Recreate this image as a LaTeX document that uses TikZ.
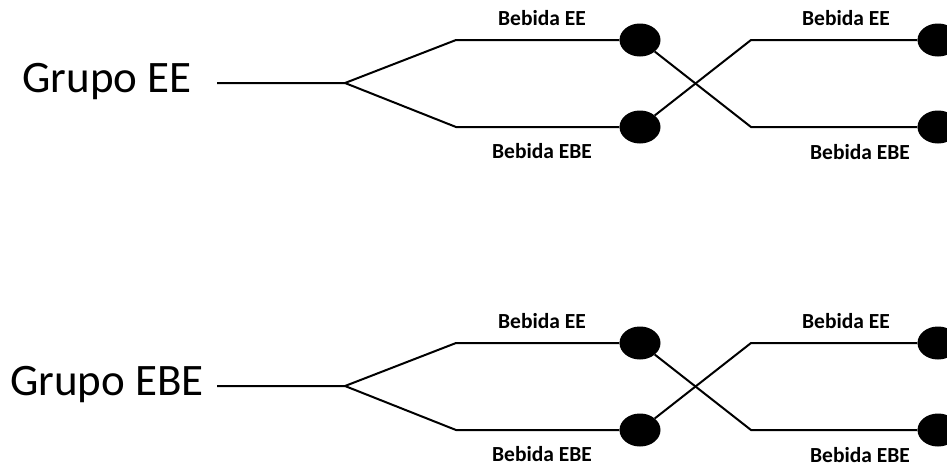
\documentclass[tikz,border=0pt]{standalone}
\usepackage{fontspec}
\setmainfont{Carlito}
\usetikzlibrary{shapes.geometric}
\begin{document}
\begin{tikzpicture}[x=1pt,y=-1pt,
  wire/.style={line width=2pt,line join=miter},
  dot/.style={ellipse,fill=black,draw=none,minimum width=41pt,minimum height=33pt,inner sep=0pt},
  grp/.style={anchor=base,inner sep=0pt,font=\fontsize{45}{54}\selectfont},
  lab/.style={anchor=base,inner sep=0pt,font=\fontsize{21.5}{26}\selectfont\bfseries}]
\useasboundingbox (0,0) rectangle (947,466);
\clip (0,0) rectangle (947,466);
\fill[white] (0,0) rectangle (947,466);
\foreach \oy/\txt/\g in {0/Grupo EE/a, 303/Grupo EBE/b}{
\begin{scope}[yshift=-\oy pt]
  \node[grp] (grp\g) at (107,92) {\txt};
  \coordinate (s\g) at (217,83);
  \coordinate (br\g) at (345,83);
  \coordinate (ut\g) at (456,40);
  \coordinate (ub\g) at (456,127);
  \coordinate (vt\g) at (751,40);
  \coordinate (vb\g) at (751,127);
  \node[dot] (dt\g) at (640,40) {};
  \node[dot] (db\g) at (640,127) {};
  \node[dot] (et\g) at (938,40) {};
  \node[dot] (eb\g) at (938,127) {};
  \draw[wire] (s\g) -- (br\g) -- (ut\g) -- (dt\g);
  \draw[wire] (br\g) -- (ub\g) -- (db\g);
  \draw[wire] (dt\g) -- (vb\g) -- (eb\g);
  \draw[wire] (db\g) -- (vt\g) -- (et\g);
  \node[lab] (l1\g) at (542,25) {Bebida EE};
  \node[lab] (l2\g) at (542,158) {Bebida EBE};
  \node[lab] (l3\g) at (846,25) {Bebida EE};
  \node[lab] (l4\g) at (860,159) {Bebida EBE};
\end{scope}
}
\end{tikzpicture}
\end{document}
